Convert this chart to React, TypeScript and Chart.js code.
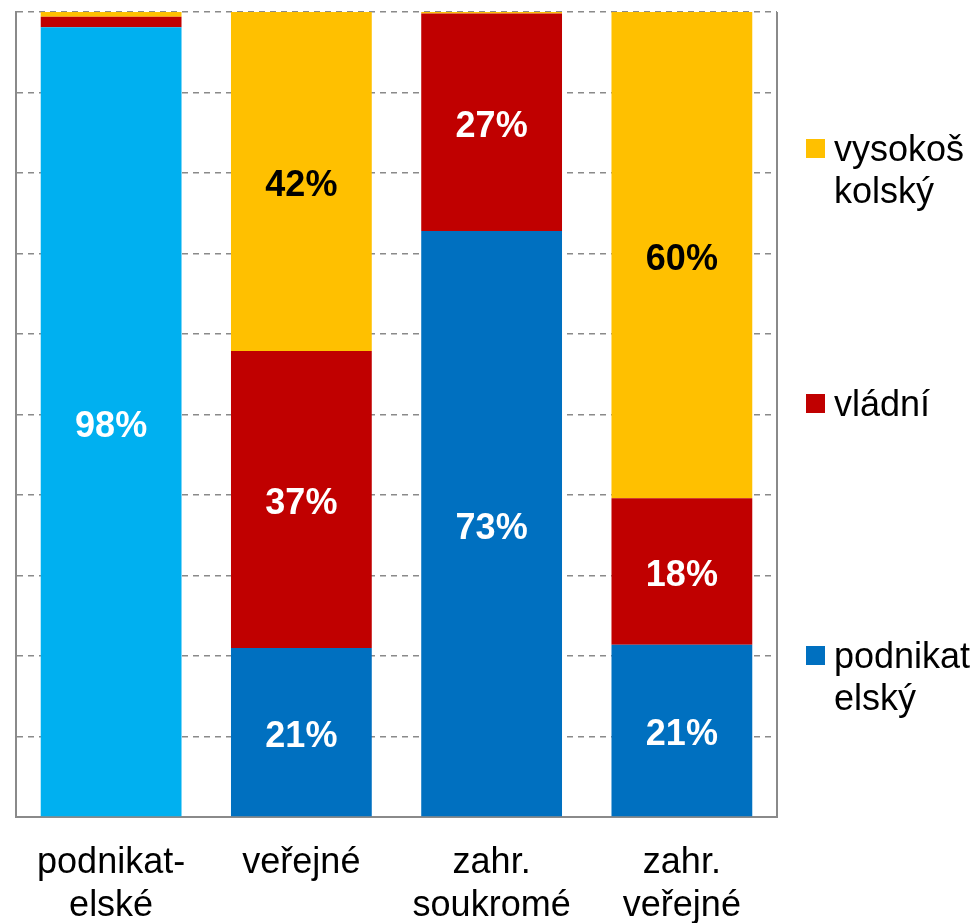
import React, { useEffect, useRef } from "react";
import { Chart, registerables } from "chart.js";

Chart.register(...registerables);

const categories: (string | string[])[] = [
  ["podnikat-", "elské"],
  "veřejné",
  ["zahr.", "soukromé"],
  ["zahr.", "veřejné"],
];

const seriesNames = ["podnikatelský", "vládní", "vysokoškolský"];
const legendLines: string[][] = [
  ["podnikat", "elský"],
  ["vládní"],
  ["vysokoš", "kolský"],
];

const podnikatelsky = [98.1, 21.0, 72.8, 21.4];
const vladni = [1.3, 36.9, 27.0, 18.2];
const vysokoskolsky = [0.6, 42.1, 0.2, 60.4];

const FONT = "'Liberation Sans', Arial, Helvetica, sans-serif";
const GRAY = "#8a8a8a";

export default function App() {
  const ref = useRef<HTMLCanvasElement>(null);

  useEffect(() => {
    const canvas = ref.current;
    if (!canvas) return;

    const labelColors = ["#ffffff", "#ffffff", "#000000"];

    const frame = {
      id: "frame",
      afterDraw(chart: any) {
        const { ctx, chartArea } = chart;
        ctx.save();
        ctx.strokeStyle = GRAY;
        ctx.lineWidth = 2;
        ctx.beginPath();
        ctx.moveTo(chartArea.right, chartArea.top);
        ctx.lineTo(chartArea.right, chartArea.bottom);
        ctx.stroke();
        ctx.restore();
      },
    };

    const dataLabels = {
      id: "dataLabels",
      afterDatasetsDraw(chart: any) {
        const { ctx } = chart;
        ctx.save();
        ctx.font = `bold 36px ${FONT}`;
        ctx.textAlign = "center";
        ctx.textBaseline = "middle";
        chart.data.datasets.forEach((ds: any, di: number) => {
          const meta = chart.getDatasetMeta(di);
          meta.data.forEach((el: any, i: number) => {
            const v = ds.data[i] as number;
            if (v < 5) return;
            ctx.fillStyle = labelColors[di];
            ctx.fillText(Math.round(v) + "%", el.x, (el.y + el.base) / 2 + 5);
          });
        });
        ctx.restore();
      },
    };

    const legendPlugin = {
      id: "customLegend",
      afterDraw(chart: any) {
        const { ctx, chartArea } = chart;
        const sqX = chartArea.right + 29;
        const txtX = chartArea.right + 57;
        const baselines = [668, 416, 161];
        ctx.save();
        ctx.font = `36px ${FONT}`;
        ctx.textAlign = "left";
        ctx.textBaseline = "alphabetic";
        chart.data.datasets.forEach((ds: any, di: number) => {
          const b = baselines[di];
          ctx.fillStyle = ds.legendColor;
          ctx.fillRect(sqX, b - 22, 19, 19);
          ctx.fillStyle = "#000000";
          legendLines[di].forEach((line, li) => {
            ctx.fillText(line, txtX, b + li * 42);
          });
        });
        ctx.restore();
      },
    };

    const chart = new Chart(canvas, {
      type: "bar",
      data: {
        labels: categories,
        datasets: [
          {
            label: seriesNames[0],
            data: podnikatelsky,
            backgroundColor: ["#00B0F0", "#0070C0", "#0070C0", "#0070C0"],
            legendColor: "#0070C0",
          } as any,
          {
            label: seriesNames[1],
            data: vladni,
            backgroundColor: "#C00000",
            legendColor: "#C00000",
          } as any,
          {
            label: seriesNames[2],
            data: vysokoskolsky,
            backgroundColor: "#FFC000",
            legendColor: "#FFC000",
          } as any,
        ],
      },
      options: {
        responsive: false,
        animation: false,
        devicePixelRatio: 1,
        layout: { padding: { left: 0, top: 12, right: 203, bottom: 0 } },
        datasets: {
          bar: { categoryPercentage: 1, barPercentage: 0.74 },
        },
        plugins: {
          legend: { display: false },
          tooltip: { enabled: false },
        },
        scales: {
          x: {
            stacked: true,
            grid: { display: false, drawTicks: false },
            border: { display: true, color: GRAY, width: 2 },
            ticks: {
              color: "#000000",
              padding: 25,
              maxRotation: 0,
              autoSkip: false,
              font: { family: FONT, size: 36, lineHeight: 1.19 },
            },
            afterFit(scale: any) {
              scale.height = 106;
            },
          },
          y: {
            stacked: true,
            min: 0,
            max: 100,
            ticks: { display: false, stepSize: 10 },
            grid: { color: GRAY, lineWidth: 1.5, drawTicks: false, tickLength: 0 },
            border: { display: true, color: GRAY, width: 2, dash: [6, 5] },
            afterFit(scale: any) {
              scale.width = 16;
            },
          },
        },
      },
      plugins: [frame, dataLabels, legendPlugin],
    });

    return () => chart.destroy();
  }, []);

  return (
    <div style={{ position: "fixed", left: 0, top: 0, width: 980, height: 923, background: "#ffffff" }}>
      <canvas ref={ref} width={980} height={923} style={{ display: "block", width: 980, height: 923 }} />
    </div>
  );
}
